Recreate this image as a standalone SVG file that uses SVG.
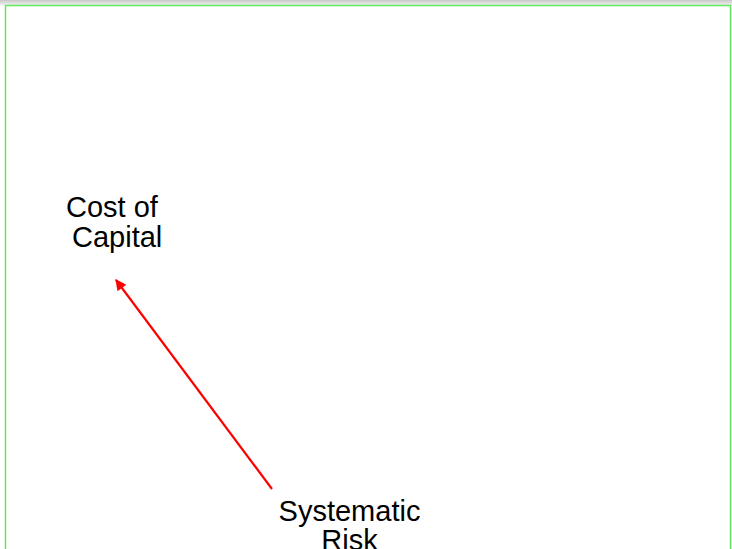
<svg xmlns="http://www.w3.org/2000/svg" width="732" height="549" viewBox="0 0 732 549">
  <defs>
    <linearGradient id="topbar" x1="0" y1="0" x2="0" y2="1">
      <stop offset="0" stop-color="#c8c8c8"/>
      <stop offset="1" stop-color="#efefef"/>
    </linearGradient>
    <marker id="arrow" viewBox="0 0 10 10" refX="9" refY="5" markerWidth="6" markerHeight="5" orient="auto" markerUnits="strokeWidth">
      <path d="M0,0 L10,5 L0,10 Z" fill="#ff0000"/>
    </marker>
  </defs>
  <style>
    .label { font-family: "Liberation Sans", Arial, sans-serif; font-size: 29px; fill: #000000; }
    .link { stroke: #ff0000; stroke-width: 2.2; fill: none; }
  </style>
  <rect x="0" y="0" width="732" height="549" fill="#ffffff"/>
  <rect x="0" y="0" width="732" height="5" fill="url(#topbar)"/>
  <!-- frame -->
  <path d="M5.5,549 V5.5 H730.5 V549" fill="none" stroke="#5de85d" stroke-width="1.5"/>
  <g id="connectors">
    <line class="link" x1="272" y1="489" x2="116" y2="280" marker-end="url(#arrow)"/>
  </g>
  <g id="node-cost-of-capital">
    <text class="label" x="66" y="217">Cost of</text>
    <text class="label" x="72" y="247">Capital</text>
  </g>
  <g id="node-systematic-risk">
    <text class="label" x="349.5" y="521" text-anchor="middle">Systematic</text>
    <text class="label" x="349.5" y="550" text-anchor="middle">Risk</text>
  </g>
</svg>
